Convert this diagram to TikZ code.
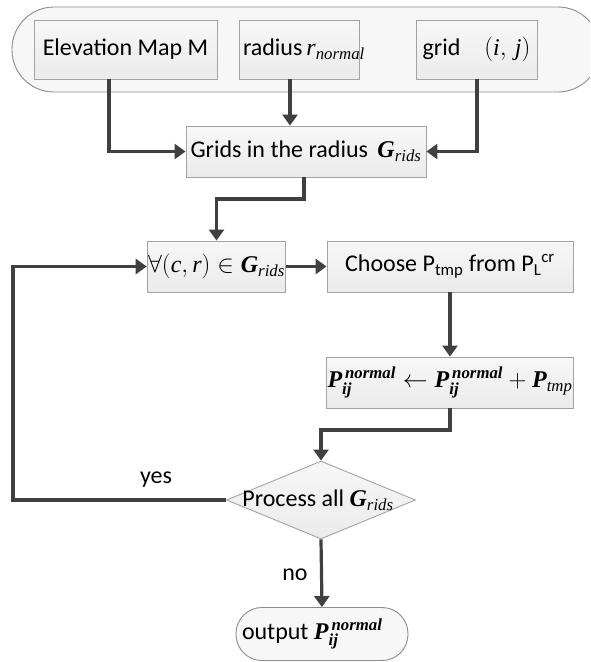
\documentclass[tikz,border=0pt]{standalone}
\usepackage{amsmath}
\usepackage[no-math]{fontspec}
\setmainfont{Carlito}
\newfontfamily\tms{Liberation Serif}
\usetikzlibrary{arrows.meta,shapes.geometric}

% Times-style italic / bold italic symbols inside formulas
\newcommand\bv[1]{\text{\tms\bfseries\itshape #1}}
\newcommand\iv[1]{\text{\tms\itshape #1}}

\definecolor{linegray}{HTML}{404040}
\definecolor{boxedge}{HTML}{A3A3A3}
\definecolor{boxtop}{HTML}{F7F7F7}
\definecolor{boxbottom}{HTML}{EBEBEB}
\definecolor{panelfill}{HTML}{F7F7F7}
\definecolor{paneledge}{HTML}{8C8C8C}

\tikzset{
  txt/.style={font=\fontsize{24}{28}\selectfont},
  boxshade/.style={top color=boxtop, bottom color=boxbottom},
  stepbox/.style={draw=boxedge, boxshade, line width=0.9pt, inner sep=1pt,
    minimum height=#1, txt},
  stepbox/.default=51pt,
  decision/.style={diamond, draw=boxedge, boxshade, line width=0.9pt,
    inner sep=0pt, minimum width=189pt, minimum height=78pt, txt},
  terminal/.style={draw=paneledge, fill=panelfill, line width=0.9pt,
    rounded corners=26pt, minimum height=53pt, txt},
  flow/.style={draw=linegray, line width=3.2pt,
    -{Triangle[width=15pt,length=11pt]}},
  tag/.style={txt}
}

\begin{document}
\begin{tikzpicture}[x=1pt,y=-1pt]
  \useasboundingbox (0,0) rectangle (590,662);
  \clip (0,0) rectangle (590,662);

  % input panel
  \draw[draw=paneledge, fill=panelfill, line width=0.9pt, rounded corners=42pt]
    (12,7) rectangle (600,92);

  % inputs
  \node[stepbox=59pt, minimum width=183pt] (map) at (125.5,49.5) {Elevation Map M};
  \node[stepbox=59pt, minimum width=120pt] (rad) at (299,49.5)
    {\makebox[112pt][l]{radius\,$\iv{r}_{\iv{normal}}$}};
  \node[stepbox=59pt, minimum width=121pt] (grd) at (476.5,49.5)
    {grid\quad$(\iv{i},\,\iv{j})$};

  % processing steps
  \node[stepbox, minimum width=240pt] (grids) at (306,151.5)
    {Grids in the radius\ \,$\bv{G}_{\iv{rids}}$};
  \node[stepbox, minimum width=135pt] (forall) at (216.5,266.5)
    {$\forall(\iv{c},\iv{r})\in\bv{G}_{\iv{rids}}$};
  \node[stepbox, minimum width=246pt] (choose) at (450,266.5)
    {Choose P\textsubscript{tmp} from P\textsubscript{L}\textsuperscript{cr}};
  \node[stepbox, minimum width=234pt] (update) at (450,382.5)
    {$\bv{P}_{\bv{ij}}^{\,\bv{normal}}\leftarrow\bv{P}_{\bv{ij}}^{\,\bv{normal}}+\bv{P}_{\iv{tmp}}$};
  \node[decision] (check) at (321,500)
    {\makebox[0pt]{\hspace*{-6pt}Process all $\bv{G}_{\iv{rids}}$}};
  \node[terminal, minimum width=172pt] (out) at (322,634)
    {\makebox[160pt][l]{output $\bv{P}_{\bv{ij}}^{\,\bv{normal}}$}};

  % routing columns
  \coordinate (mapx) at (109,0);
  \coordinate (radx) at (290,0);
  \coordinate (grdx) at (477,0);
  \coordinate (gridsx) at (304,0);
  \coordinate (jog1) at (0,199);
  \coordinate (jog2) at (0,430);
  \coordinate (loopx) at (13,0);

  % connectors
  \draw[flow] (mapx |- map.south) |- (grids.west);
  \draw[flow] (radx |- rad.south) -- (radx |- grids.north);
  \draw[flow] (grdx |- grd.south) |- (grids.east);
  \draw[flow] (gridsx |- grids.south) -- (gridsx |- jog1) -| (forall.north);
  \draw[flow] (forall.east) -- (choose.west);
  \draw[flow] (choose.south) -- (update.north);
  \draw[flow] (update.south) -- (update.south |- jog2) -| (check.north);
  \draw[flow] (check.west) -- (loopx |- check.west) |- (forall.west);
  \draw[flow] (check.south) -- (out.north);

  % branch labels
  \node[tag] (yes) at (156,480) {yes};
  \node[tag] (no) at (295,575) {no};
\end{tikzpicture}
\end{document}
